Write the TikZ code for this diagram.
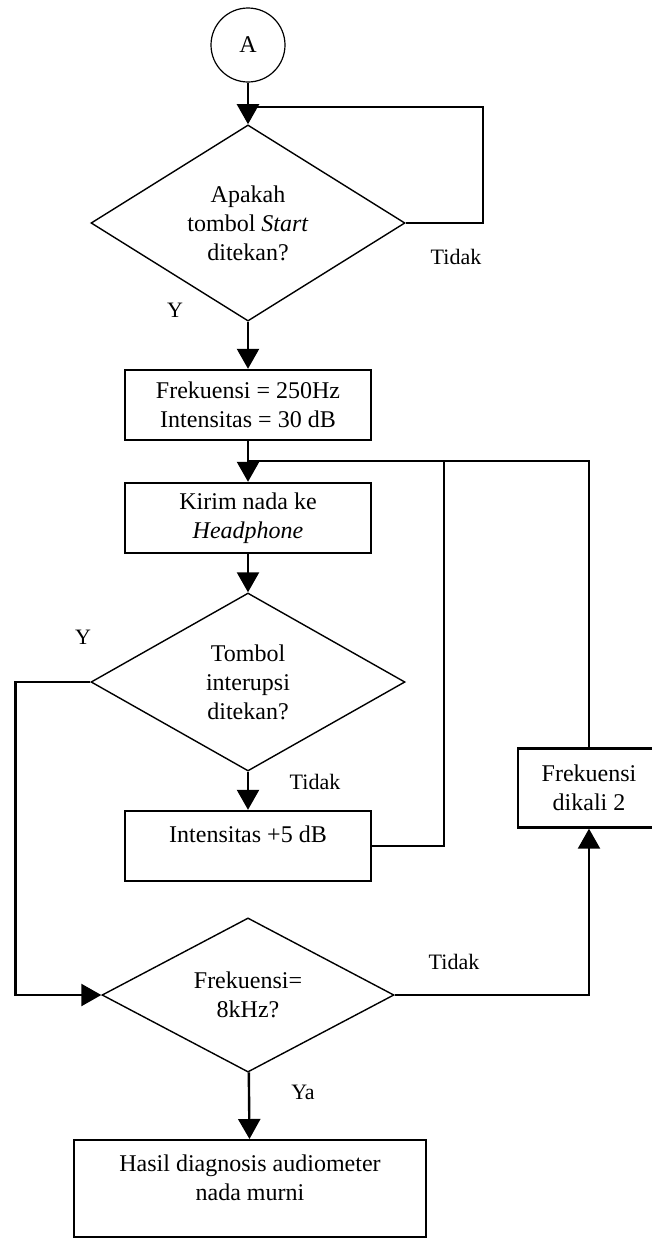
\documentclass[tikz,border=0pt]{standalone}
\usepackage{fontspec}
\setmainfont{Liberation Serif}
\usetikzlibrary{shapes.geometric,arrows.meta}

\begin{document}
\begin{tikzpicture}[x=0.5pt, y=-0.5pt,
    every node/.style={font=\fontsize{12}{14.5}\selectfont},
    box/.style={draw, rectangle, line width=1.2pt, minimum width=123pt, minimum height=35pt, align=center},
    decision/.style={draw, diamond, line width=0.7pt, inner sep=0pt, align=center},
    flow/.style={-{Triangle[length=10pt,width=11pt]}, line width=1.2pt},
    link/.style={line width=1.2pt},
    lbl/.style={font=\fontsize{11}{13}\selectfont}]
    \useasboundingbox (0,0) rectangle (652,1238);

    \node[draw, circle, line width=0.6pt, minimum size=37pt] (a) at (248,45) {A};
    \node[decision, minimum width=157pt, minimum height=88pt] (start) at (248,223) {Apakah\\tombol \textit{Start}\\ditekan?};
    \node[box] (init) at (248,405) {Frekuensi = 250Hz\\Intensitas = 30 dB};
    \node[box] (kirim) at (248,518) {Kirim nada ke\\\textit{Headphone}};
    \node[decision, minimum width=157pt, minimum height=89pt] (intr) at (248,682) {Tombol\\interupsi\\ditekan?};
    \node[box, text depth=12pt] (naik) at (248,846) {Intensitas +5 dB};
    \node[box, minimum width=71pt, minimum height=39.5pt] (kali) at (589,788) {Frekuensi\\dikali 2};
    \node[decision, minimum width=146pt, minimum height=72pt] (cek) at (248,995) {Frekuensi=\\8kHz?};
    \node[box, anchor=north, minimum width=176pt, minimum height=48.5pt, text depth=11pt] (hasil) at (250,1139) {Hasil diagnosis audiometer\\nada murni};

    \coordinate (j1) at (248,107);
    \coordinate (j2) at (248,461);
    \coordinate (k1) at (444,461);
    \coordinate (k2) at (589,461);

    % main flow
    \draw[flow] (a) -- (start);
    \draw[link] (start.east) -- ++(77,0) |- (j1);
    \draw[flow] (start) -- (init);
    \draw[flow] (init) -- (kirim);
    \draw[flow] (kirim) -- (intr);
    \draw[flow] (intr) -- (naik);
    \draw[link] (naik.east) -| (k1) -- (j2);
    \draw[flow] (intr.west) -- ++(-75,0) |- (cek.west);
    \draw[flow] (cek.east) -| (kali.south);
    \draw[link] (kali.north) -- (k2) -- (j2);
    \draw[flow] (cek) -- (hasil);

    % labels
    \node[lbl] (t1) at (456,257) {Tidak};
    \node[lbl] (y1) at (175,310) {Y};
    \node[lbl] (y2) at (83,637) {Y};
    \node[lbl] (t2) at (315,782) {Tidak};
    \node[lbl] (t3) at (454,962) {Tidak};
    \node[lbl] (ya) at (303,1092) {Ya};
\end{tikzpicture}
\end{document}
